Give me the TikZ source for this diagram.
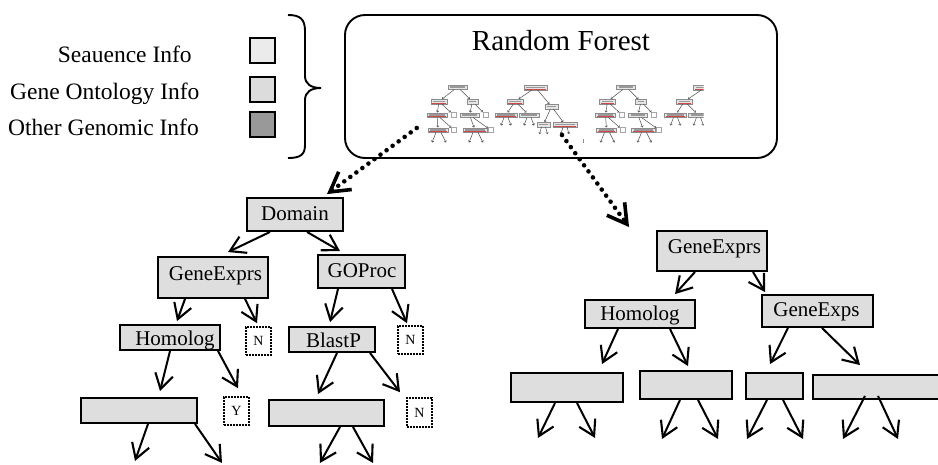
\documentclass[tikz,border=0pt]{standalone}
\usepackage{fontspec}
\setmainfont{Liberation Serif}
\usetikzlibrary{arrows.meta,calc}
\definecolor{boxgray}{HTML}{DEDEDE}
\definecolor{seqgray}{HTML}{EBEBEB}
\definecolor{gogray}{HTML}{DCDCDC}
\definecolor{othgray}{HTML}{999999}
\definecolor{minired}{HTML}{D04848}
\newcommand\minib[5]{%
  \node[minibox, minimum width=#4pt] (#1) at (#2,#3) {};
  \draw[minitext] ($(#1.west)+(2.5,0)$) -- ($(#1.east)+(-2.5,0)$);
  \ifnum#5=1 \draw[minired, line width=0.7pt] ($(#1.south west)+(1.5,-0.9)$) -- ($(#1.south east)+(-1.5,-0.9)$);\fi
}
\newcommand\minil[3]{\node[minileaf] (#1) at (#2,#3) {};}
\newcommand\minitreeA[2]{%
  \minib{#1r}{#2+457.5}{87}{19}{0}
  \minib{#1a}{#2+439}{101.5}{16}{1}
  \minib{#1b}{#2+472.5}{101.5}{11}{0}
  \minib{#1c}{#2+437}{115}{20}{1}
  \minil{#1cl}{#2+453.5}{115}
  \minib{#1d}{#2+469.5}{115}{19}{0}
  \minil{#1dl}{#2+485.5}{115}
  \minib{#1e}{#2+438}{130}{20}{1}
  \minil{#1el}{#2+454}{130}
  \minib{#1f}{#2+475}{130}{24}{1}
  \minil{#1fl}{#2+490.5}{130}
  \draw[miniarr] (#1r) -- (#1a);
  \draw[miniarr] (#1r) -- (#1b);
  \draw[miniarr] (#1a) -- (#1c);
  \draw[miniarr] (#1a) -- (#1cl);
  \draw[miniarr] (#1b) -- (#1d);
  \draw[miniarr] (#1b) -- (#1dl);
  \draw[miniarr] (#1c) -- (#1e);
  \draw[miniarr] (#1c) -- (#1el);
  \draw[miniarr] (#1d) -- (#1f);
  \draw[miniarr] (#1d) -- (#1fl);
  \draw[miniarr] ($(#1e.south)+(-2,0)$) -- ($(#1e.south)+(-6,10)$);
  \draw[miniarr] ($(#1e.south)+(3,0)$) -- ($(#1e.south)+(8,10)$);
  \draw[miniarr] ($(#1f.south)+(-2,0)$) -- ($(#1f.south)+(-6,10)$);
  \draw[miniarr] ($(#1f.south)+(3,0)$) -- ($(#1f.south)+(8,10)$);
}
\newcommand\minitreeB[2]{%
  \minib{#1r}{#2+535.5}{87.5}{23}{1}
  \minib{#1a}{#2+515}{101.5}{16}{1}
  \minib{#1b}{#2+551.5}{106.5}{13}{0}
  \minib{#1c}{#2+506}{115}{22}{1}
  \minib{#1d}{#2+529}{115}{20}{0}
  \minib{#1e}{#2+543.5}{124.5}{13}{0}
  \minib{#1f}{#2+565}{124.5}{24}{1}
  \draw[miniarr] (#1r) -- (#1a);
  \draw[miniarr] (#1r) -- (#1b);
  \draw[miniarr] (#1a) -- (#1c);
  \draw[miniarr] (#1a) -- (#1d);
  \draw[miniarr] (#1b) -- (#1e);
  \draw[miniarr] (#1b) -- (#1f);
  \draw[miniarr] ($(#1c.south)+(-2,0)$) -- ($(#1c.south)+(-5,8)$);
  \draw[miniarr] ($(#1c.south)+(2,0)$) -- ($(#1c.south)+(5,8)$);
  \draw[miniarr] ($(#1d.south)+(-2,0)$) -- ($(#1d.south)+(-5,8)$);
  \draw[miniarr] ($(#1d.south)+(2,0)$) -- ($(#1d.south)+(5,8)$);
  \draw[miniarr] ($(#1e.south)+(-2,0)$) -- ($(#1e.south)+(-4,7)$);
  \draw[miniarr] ($(#1e.south)+(2,0)$) -- ($(#1e.south)+(4,7)$);
  \draw[miniarr] ($(#1f.south)+(-2,0)$) -- ($(#1f.south)+(-4,7)$);
  \draw[miniarr] ($(#1f.south)+(2,0)$) -- ($(#1f.south)+(4,7)$);
}
\begin{document}
\begin{tikzpicture}[x=1pt,y=-1pt,
  bigbox/.style={draw=black, fill=boxgray, line width=1.9pt, inner sep=0pt},
  leafbox/.style={draw=black, fill=white, line width=1.6pt, dash pattern=on 1.6pt off 1.4pt, inner sep=0pt, minimum width=25pt, minimum height=28pt},
  lbl/.style={anchor=base, inner sep=0pt, font=\fontsize{21}{25}\selectfont},
  leaflbl/.style={anchor=base, inner sep=0pt, font=\fontsize{14}{16}\selectfont},
  legtext/.style={anchor=base west, inner sep=0pt, font=\fontsize{23.5}{28}\selectfont},
  legbox/.style={draw=black, line width=1.9pt, inner sep=0pt, minimum width=25pt, minimum height=25pt},
  arr/.style={line width=2pt, -{Straight Barb[length=15pt,width=18pt,line width=2.1pt]}},
  dotarr/.style={line width=4.6pt, line cap=round, dash pattern=on 0pt off 7.5pt, -{Straight Barb[length=19pt,width=22pt,line width=3.6pt]}},
  minibox/.style={draw=black!45, fill=black!10, line width=0.5pt, inner sep=0pt, minimum height=4.5pt},
  minileaf/.style={draw=black!35, fill=white, line width=0.5pt, inner sep=0pt, minimum width=5pt, minimum height=5pt},
  minitext/.style={draw=black!40, line width=1.2pt},
  miniarr/.style={draw=black!70, line width=0.5pt, -{Straight Barb[length=1.4pt,width=2.6pt,line width=0.5pt]}}
]
\useasboundingbox (0,0) rectangle (938,464);

% legend
\node[legtext] (l1) at (57.7,62.7) {Seauence Info};
\node[legtext] (l2) at (10,99) {Gene Ontology Info};
\node[legtext] (l3) at (8,135) {Other Genomic Info};
\node[legbox, fill=seqgray] (s1) at (262.5,50.8) {};
\node[legbox, fill=gogray] (s2) at (262.5,89.2) {};
\node[legbox, fill=othgray] (s3) at (262.5,124.5) {};
\draw[line width=1.9pt] (288,15) .. controls (300,15) and (305,19) .. (305,31) -- (305,76)
  .. controls (305,84) and (311,88) .. (321,88) .. controls (311,88) and (305,92) .. (305,100)
  -- (305,145) .. controls (305,155) and (300,158) .. (288,158);

% random forest box
\node[draw=black, line width=1.9pt, rounded corners=20pt, minimum width=432pt, minimum height=143pt, inner sep=0pt] (rf) at (561,86.5) {};
\node[anchor=base, inner sep=0pt, font=\fontsize{29}{34}\selectfont] (rft) at (561,50) {Random Forest};

% miniature forest
\minitreeA{t1}{0}
\minitreeB{t2}{0}
\minitreeA{t3}{168.5}
\begin{scope}
\clip (600,70) rectangle (703.5,150);
\minitreeB{t4}{169.5}
\end{scope}
\draw[black!45, line width=0.6pt] (583,139) -- (583,143);

% left big tree
\node[bigbox, minimum width=96pt, minimum height=33pt] (dom) at (295,214.5) {};
\node[lbl] (domt) at (295,220) {Domain};
\node[bigbox, minimum width=110pt, minimum height=41pt] (gex) at (213,277.5) {};
\node[lbl] (gext) at (215.5,280) {GeneExprs};
\node[bigbox, minimum width=87pt, minimum height=33pt] (gop) at (361.5,271.5) {};
\node[lbl] (gopt) at (362,277.3) {GOProc};
\node[bigbox, minimum width=100pt, minimum height=25pt] (hom) at (170,337.5) {};
\node[lbl] (homt) at (175,345.7) {Homolog};
\node[leafbox] (na) at (258.5,341) {};
\node[leaflbl] (nat) at (258.5,345.5) {N};
\node[bigbox, minimum width=86pt, minimum height=25pt] (bla) at (332,339.5) {};
\node[lbl] (blat) at (333.5,347) {BlastP};
\node[leafbox] (nb) at (410.5,340) {};
\node[leaflbl] (nbt) at (410.5,344.5) {N};
\node[bigbox, minimum width=116pt, minimum height=25pt] (e1) at (139,410.5) {};
\node[leafbox] (ya) at (236.5,411) {};
\node[leaflbl] (yat) at (236.5,415.8) {Y};
\node[bigbox, minimum width=115pt, minimum height=26pt] (e2) at (326.5,413) {};
\node[leafbox, minimum height=29pt] (nc) at (419.5,412.5) {};
\node[leaflbl] (nct) at (419.5,417) {N};

\draw[arr] ($(dom.south)+(-25,0)$) -- ($(gex.north)+(15,-4)$);
\draw[arr] ($(dom.south)+(12,0)$) -- ($(gop.north)+(-21.5,-3)$);
\draw[arr] ($(gex.south)+(-28,0)$) -- ($(hom.north)+(7,-3)$);
\draw[arr] ($(gex.south)+(32,0)$) -- ($(na.north)+(-1.5,-3)$);
\draw[arr] ($(gop.south)+(-23.5,0)$) -- ($(bla.north)+(-2,-4)$);
\draw[arr] ($(gop.south)+(30.5,0)$) -- ($(nb.north)+(-3.5,-2)$);
\draw[arr] ($(hom.south)+(0,0)$) -- ($(e1.north)+(21,-6)$);
\draw[arr] ($(hom.south)+(48,0)$) -- ($(ya.north)+(1.5,-8)$);
\draw[arr] ($(bla.south)+(5,0)$) -- ($(e2.north)+(-8.5,-5)$);
\draw[arr] ($(bla.south)+(38,0)$) -- ($(nc.north)+(-19.5,-5)$);
\draw[arr] ($(e1.south)+(9,0)$) -- ($(e1.south)+(-4,37)$);
\draw[arr] ($(e1.south)+(56,0)$) -- ($(e1.south)+(83,39)$);
\draw[arr] ($(e2.south)+(13.5,0)$) -- ($(e2.south)+(-6.5,36)$);
\draw[arr] ($(e2.south)+(26.5,0)$) -- ($(e2.south)+(46.5,36)$);

% right big tree
\node[bigbox, minimum width=110pt, minimum height=40pt] (rg) at (712,251) {};
\node[lbl] (rgt) at (714.5,253.3) {GeneExprs};
\node[bigbox, minimum width=110pt, minimum height=28pt] (rh) at (640,314) {};
\node[lbl] (rht) at (640,320.7) {Homolog};
\node[bigbox, minimum width=111pt, minimum height=32pt] (rx) at (817.5,311) {};
\node[lbl] (rxt) at (816.5,316) {GeneExps};
\node[bigbox, minimum width=112pt, minimum height=29pt] (b1) at (567,387.5) {};
\node[bigbox, minimum width=92pt, minimum height=28pt] (b2) at (686,385) {};
\node[bigbox, minimum width=57pt, minimum height=26pt] (b3) at (774.5,386) {};
\node[bigbox, minimum width=132pt, minimum height=24pt] (b4) at (879,387) {};

\draw[arr] ($(rg.south)+(-17,0)$) -- ($(rh.north)+(35,-5)$);
\draw[arr] ($(rg.south)+(41,0)$) -- ($(rx.north)+(-52.5,-2)$);
\draw[arr] ($(rh.south)+(-22,0)$) -- ($(b1.north)+(35,-8)$);
\draw[arr] ($(rh.south)+(30,0)$) -- ($(b2.north)+(2,-4)$);
\draw[arr] ($(rx.south)+(-29.5,0)$) -- ($(b3.north)+(-4.5,-8)$);
\draw[arr] ($(rx.south)+(4.5,0)$) -- ($(b4.north)+(-19,-9)$);
\draw[arr] ($(b1.south)+(-12,0)$) -- ($(b1.south)+(-29,35)$);
\draw[arr] ($(b1.south)+(10,0)$) -- ($(b1.south)+(28,35)$);
\draw[arr] ($(b2.south)+(-6,0)$) -- ($(b2.south)+(-24,39)$);
\draw[arr] ($(b2.south)+(12,0)$) -- ($(b2.south)+(32,39)$);
\draw[arr] ($(b3.south)+(-7.5,0)$) -- ($(b3.south)+(-27.5,39)$);
\draw[arr] ($(b3.south)+(8.5,0)$) -- ($(b3.south)+(28.5,39)$);
\draw[arr] ($(b4.south)+(-14,-4)$) -- ($(b4.south)+(-36,39)$);
\draw[arr] ($(b4.south)+(-1,-4)$) -- ($(b4.south)+(19,39)$);

% dotted zoom arrows
\draw[dotarr] ($(t1e.west)+(-11,-2)$) -- ($(dom.north)+(32,-3)$);
\draw[dotarr] ($(t2f.south)+(-3,8)$) -- ($(rg.north west)+(-27,-3)$);
\end{tikzpicture}
\end{document}
